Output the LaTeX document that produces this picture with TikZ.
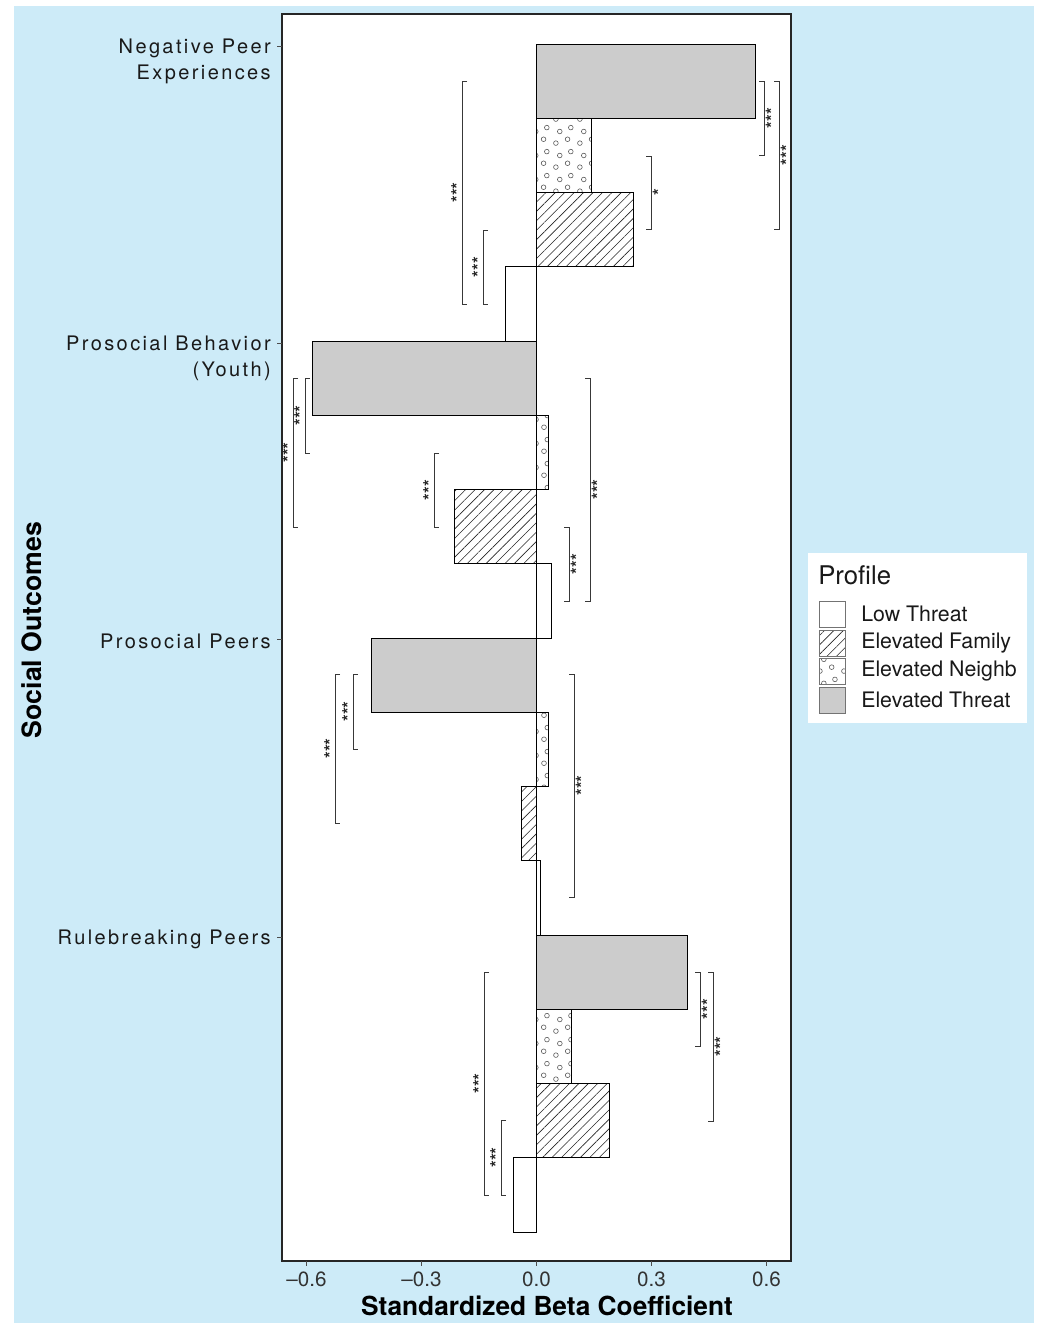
\documentclass[tikz,border=0pt]{standalone}
\usepackage{fontspec}
\setmainfont{TeX Gyre Heros}
\newfontfamily\catfont{TeX Gyre Heros}[LetterSpace=12]
\usetikzlibrary{patterns.meta}
\definecolor{panelblue}{HTML}{CDEBF8}
\definecolor{threatgray}{HTML}{CCCCCC}
\definecolor{signgray}{HTML}{383838}
\pgfdeclarepattern{
    name=rings, type=uncolored,
    bottom left={\pgfpoint{0pt}{0pt}},
    top right={\pgfpoint{18pt}{18pt}},
    tile size={\pgfpoint{18pt}{18pt}},
    code={
        \pgfsetlinewidth{0.45pt}
        \pgfpathcircle{\pgfpoint{3pt}{3pt}}{1.8pt}
        \pgfpathcircle{\pgfpoint{12pt}{6pt}}{1.8pt}
        \pgfpathcircle{\pgfpoint{6pt}{12pt}}{1.8pt}
        \pgfpathcircle{\pgfpoint{14.5pt}{15pt}}{1.8pt}
        \pgfusepath{stroke}
    }
}
\tikzset{
    bar/.style={
        draw=black, line width=0.6pt
    },
    lowbar/.style={bar, fill=white},
    familybar/.style={
        bar, pattern={Lines[angle=45, distance=5pt, line width=0.45pt]},
        pattern color=black!85
    },
    neighbar/.style={bar, pattern=rings, pattern color=black!65},
    threatbar/.style={bar, fill=threatgray},
    sigline/.style={
        draw=signgray, line width=0.6pt
    },
    stars/.style={
        font=\bfseries\fontsize{13}{13}\selectfont, text=black!85,
        inner sep=0pt, rotate=90
    },
    outcome/.style={
        font=\catfont\fontsize{15}{19.5}\selectfont, text=black!90,
        align=right, anchor=east, inner sep=0pt
    },
    ticklabel/.style={
        font=\fontsize{15.5}{15.5}\selectfont, text=black!80, inner sep=0pt
    },
    axistitle/.style={
        font=\bfseries\fontsize{19.7}{19.7}\selectfont, inner sep=0pt
    },
    keybox/.style={
        minimum size=19.5pt, inner sep=0pt, draw=black!55, line width=0.5pt
    },
    keylabel/.style={
        font=\fontsize{16}{16}\selectfont, text=black!90, anchor=west, inner sep=0pt
    }
}
\begin{document}
\begin{tikzpicture}[x=0.75pt, y=-0.75pt]

    % Background and panel
    \useasboundingbox (0,0) rectangle (1040,1323);
    \fill[white] (0,0) rectangle (1040,1323);
    \fill[panelblue] (14,6) rectangle (1034,1323);
    \fill[white] (282,14) rectangle (791,1261);

    % Bars (x in beta units)
    \begin{scope}[shift={(536.5,0)}, x=287.5pt]
        \foreach \g/\th/\ne/\fa/\lo in {0/0.572/0.142/0.252/-0.080,
                1/-0.585/0.030/-0.213/0.040,
                2/-0.432/0.030/-0.040/0.009,
                3/0.393/0.090/0.190/-0.061}{
            \pgfmathsetmacro{\ytop}{44+297*\g}
            \draw[threatbar] (0,\ytop) rectangle (\th,\ytop+74.25);
            \draw[neighbar] (0,\ytop+74.25) rectangle (\ne,\ytop+148.5);
            \draw[familybar] (0,\ytop+148.5) rectangle (\fa,\ytop+222.75);
            \draw[lowbar] (0,\ytop+222.75) rectangle (\lo,\ytop+297);
        }
    \end{scope}

    % Significance brackets
    \foreach \x/\ya/\yb/\d/\lab [count=\i] in {462/81/304/1/***, 483/230/304/1/***,
            651/156/229/-1/*, 764/81/155/-1/***, 779/81/229/-1/***,
            293/378/527/1/***, 305/378/453/1/***, 434/453/527/1/***,
            590/378/601/-1/***, 569/527/601/-1/***,
            335/674/823/1/***, 353/674/749/1/***, 574/674/897/-1/***,
            484/972/1195/1/***, 501/1120/1195/1/***,
            700/972/1046/-1/***, 713/972/1121/-1/***}{
        \draw[sigline] (\x+5*\d,\ya) -- (\x,\ya) -- (\x,\yb) -- (\x+5*\d,\yb);
        \node[stars] (sig\i) at (\x-6.25*\d+1.75,{(\ya+\yb)/2}) {\lab};
    }

    % Panel frame and ticks
    \draw[black!85, line width=1pt] (282,14) rectangle (791,1261);
    \foreach \y in {46,343,639,937}
        \draw[black!70, line width=0.7pt] (277,\y) -- (282,\y);
    \foreach \v/\lab [count=\i] in {-0.6/–0.6, -0.3/–0.3, 0/0.0, 0.3/0.3, 0.6/0.6}{
        \draw[black!70, line width=0.7pt] ({536.5+383.3*\v},1261) -- ({536.5+383.3*\v},1266);
        \node[ticklabel] (tick\i) at ({536.5+383.3*\v},1279) {\lab};
    }

    % Outcome labels
    \node[outcome] (negpeer) at (271,61) {Negative Peer\\Experiences};
    \node[outcome] (prosbeh) at (271,358) {Prosocial Behavior\\(Youth)};
    \node[outcome] (prospeer) at (271,641) {Prosocial Peers};
    \node[outcome] (rulepeer) at (271,939) {Rulebreaking Peers};

    % Axis titles
    \node[axistitle] (xtitle) at (547,1306) {Standardized Beta Coefficient};
    \node[axistitle, rotate=90, font=\bfseries\fontsize{20}{20}\selectfont] (ytitle) at (32,630) {Social Outcomes};

    % Legend
    \fill[white] (808,553) rectangle (1027,723);
    \node[keylabel, font=\fontsize{19.3}{19.3}\selectfont] (proftitle) at (818,575) {Profile};
    \node[keybox, fill=white] (klow) at (832.5,614) {};
    \node[keybox, pattern={Lines[angle=45, distance=5pt, line width=0.45pt]}, pattern color=black!85] (kfam) at (832.5,643) {};
    \node[keybox, pattern=rings, pattern color=black!65] (kneigh) at (832.5,671) {};
    \node[keybox, fill=threatgray] (kthreat) at (832.5,700) {};
    \node[keylabel] (llow) at (861,614) {Low Threat};
    \node[keylabel] (lfam) at (861,643) {Elevated Family};
    \node[keylabel] (lneigh) at (861,671) {Elevated Neighb};
    \node[keylabel] (lthreat) at (861,700) {Elevated Threat};

\end{tikzpicture}
\end{document}
